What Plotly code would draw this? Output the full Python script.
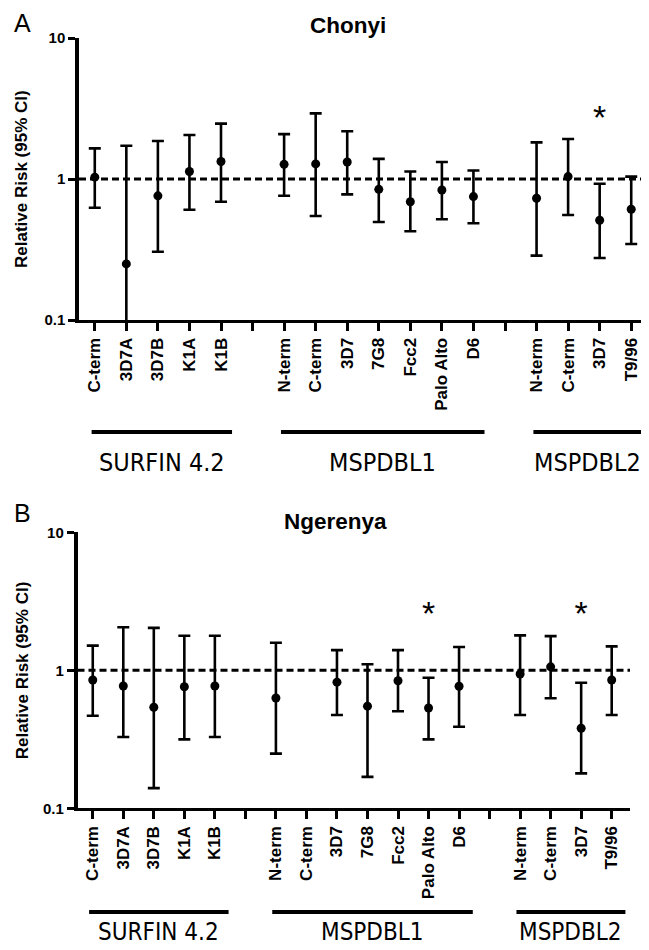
import plotly.graph_objects as go

# ---------------- data ----------------
categories = ["C-term", "3D7A", "3D7B", "K1A", "K1B", "",
              "N-term", "C-term", "3D7", "7G8", "Fcc2", "Palo Alto", "D6", "",
              "N-term", "C-term", "3D7", "T9/96"]

groups = ["SURFIN 4.2", "MSPDBL1", "MSPDBL2"]
group_first = [0, 6, 14]
group_last = [4, 12, 17]

# Chonyi (panel A)
rr_chonyi = [1.03, 0.25, 0.76, 1.13, 1.33, None, 1.27, 1.28, 1.32, 0.845, 0.69, 0.835, 0.75, None, 0.73, 1.04, 0.51, 0.61]
lo_chonyi = [0.625, 0.08, 0.305, 0.605, 0.69, None, 0.76, 0.547, 0.778, 0.496, 0.426, 0.518, 0.485, None, 0.286, 0.556, 0.275, 0.346]
hi_chonyi = [1.65, 1.72, 1.86, 2.05, 2.47, None, 2.08, 2.92, 2.18, 1.39, 1.13, 1.32, 1.15, None, 1.82, 1.92, 0.926, 1.04]
stars_chonyi = [16]

# Ngerenya (panel B)
rr_ngerenya = [0.85, 0.77, 0.54, 0.76, 0.77, None, 0.63, None, 0.82, 0.55, 0.84, 0.533, 0.766, None, 0.94, 1.06, 0.38, 0.85]
lo_ngerenya = [0.469, 0.329, 0.14, 0.316, 0.329, None, 0.249, None, 0.474, 0.169, 0.505, 0.316, 0.39, None, 0.474, 0.627, 0.179, 0.474]
hi_ngerenya = [1.51, 2.05, 2.03, 1.78, 1.78, None, 1.585, None, 1.40, 1.105, 1.40, 0.884, 1.475, None, 1.79, 1.77, 0.813, 1.49]
stars_ngerenya = [11, 16]

y_ticks = [0.1, 1, 10]
y_ticktext = ["0.1", "1", "10"]
reference_value = 1

# ---------------- layout helpers ----------------
W, H = 649, 950
OFF = 8  # page body margin
def px(x):
    return (x - OFF) / W
def py(y):
    return 1 - (y - OFF) / H

FONT = "Liberation Sans, Arial, sans-serif"
NARROW = "Liberation Sans Narrow, Arial Narrow, DejaVu Sans Condensed, Liberation Sans, sans-serif"

panels = [
    dict(title="Chonyi", letter="A", rr=rr_chonyi, lo=lo_chonyi, hi=hi_chonyi, stars=stars_chonyi,
         xdom=(79, 647), ytop=38, ybot=320, xr=[-0.5, 17.5],
         title_xy=(348, 26), letter_xy=(22, 23), group_y=432, glabel_y=462,
         star_y=2.62, ax="", pad=(-0.1, 0.35), glabel_size=25),
    dict(title="Ngerenya", letter="B", rr=rr_ngerenya, lo=lo_ngerenya, hi=hi_ngerenya, stars=stars_ngerenya,
         xdom=(77.5, 630), ytop=532.3, ybot=808.3, xr=[-0.5, 17.6],
         title_xy=(335, 521), letter_xy=(22, 513), group_y=912, glabel_y=932,
         star_y=2.46, ax="2", pad=(-0.12, 0.45), glabel_size=24),
]

fig = go.Figure()
shapes = []
annotations = []
layout_axes = {}

for p in panels:
    xa = "x" + p["ax"]
    ya = "y" + p["ax"]
    idx = [i for i, v in enumerate(p["rr"]) if v is not None]
    xs = idx
    ys = [p["rr"][i] for i in idx]
    plus = [p["hi"][i] - p["rr"][i] for i in idx]
    minus = [p["rr"][i] - p["lo"][i] for i in idx]

    # reference line at RR = 1
    fig.add_trace(go.Scatter(x=p["xr"], y=[reference_value, reference_value], mode="lines",
                             line=dict(color="black", width=3, dash="7px,4px"),
                             xaxis=xa, yaxis=ya, hoverinfo="skip", showlegend=False))
    # points with 95% CI
    fig.add_trace(go.Scatter(x=xs, y=ys, mode="markers",
                             marker=dict(size=9, color="black"),
                             error_y=dict(type="data", symmetric=False, array=plus, arrayminus=minus,
                                          color="black", thickness=2.6, width=6),
                             xaxis=xa, yaxis=ya, showlegend=False))
    # significance stars
    fig.add_trace(go.Scatter(x=p["stars"], y=[p["star_y"]] * len(p["stars"]), mode="text",
                             text=["*"] * len(p["stars"]), textposition="middle center",
                             textfont=dict(size=34, family=FONT, color="black"),
                             xaxis=xa, yaxis=ya, showlegend=False, cliponaxis=False))

    layout_axes["xaxis" + p["ax"]] = dict(
        domain=[px(p["xdom"][0]), px(p["xdom"][1])], range=p["xr"], anchor=ya,
        tickmode="array", tickvals=list(range(len(categories))), ticktext=categories,
        tickangle=-90, ticks="outside", ticklen=8, tickwidth=3, tickcolor="black",
        showline=True, linewidth=3, linecolor="black", showgrid=False, zeroline=False,
        tickfont=dict(family=FONT, size=17, color="black", weight="bold"), automargin=False)
    layout_axes["yaxis" + p["ax"]] = dict(
        domain=[py(p["ybot"]), py(p["ytop"])], type="log", range=[-1, 1], anchor=xa,
        tickmode="array", tickvals=y_ticks, ticktext=y_ticktext,
        ticks="outside", ticklen=7, tickwidth=3, tickcolor="black",
        showline=True, linewidth=3.5, linecolor="black", showgrid=False, zeroline=False,
        tickfont=dict(family=FONT, size=15, color="black", weight="bold"), automargin=False)

    # axis title
    annotations.append(dict(text="Relative Risk (95% CI)", textangle=-90, xref="paper", yref="paper",
                            x=px(22), y=py((p["ytop"] + p["ybot"]) / 2), showarrow=False,
                            xanchor="center", yanchor="middle",
                            font=dict(family=FONT, size=17, color="black", weight="bold")))
    # panel title
    annotations.append(dict(text=p["title"], xref="paper", yref="paper",
                            x=px(p["title_xy"][0]), y=py(p["title_xy"][1]), showarrow=False,
                            xanchor="center", yanchor="middle",
                            font=dict(family=FONT, size=22.5, color="black", weight="bold")))
    # panel letter
    annotations.append(dict(text=p["letter"], xref="paper", yref="paper",
                            x=px(p["letter_xy"][0]), y=py(p["letter_xy"][1]), showarrow=False,
                            xanchor="center", yanchor="middle",
                            font=dict(family=FONT, size=25, color="black")))
    # group bars and labels
    for g, f, l in zip(groups, group_first, group_last):
        x0 = f + p["pad"][0]
        x1 = l + p["pad"][1]
        shapes.append(dict(type="line", xref=xa, yref="paper", x0=x0, x1=x1,
                           y0=py(p["group_y"]), y1=py(p["group_y"]),
                           line=dict(color="black", width=4)))
        annotations.append(dict(text=g, xref=xa, yref="paper", x=(x0 + x1) / 2, y=py(p["glabel_y"]),
                                xanchor="center", yanchor="middle", borderpad=0,
                                showarrow=False, font=dict(family=NARROW, size=p["glabel_size"], color="black")))

fig.update_layout(width=W, height=H, margin=dict(l=0, r=0, t=0, b=0),
                  paper_bgcolor="white", plot_bgcolor="white",
                  shapes=shapes, annotations=annotations, showlegend=False, **layout_axes)

fig.write_html("out.html")
